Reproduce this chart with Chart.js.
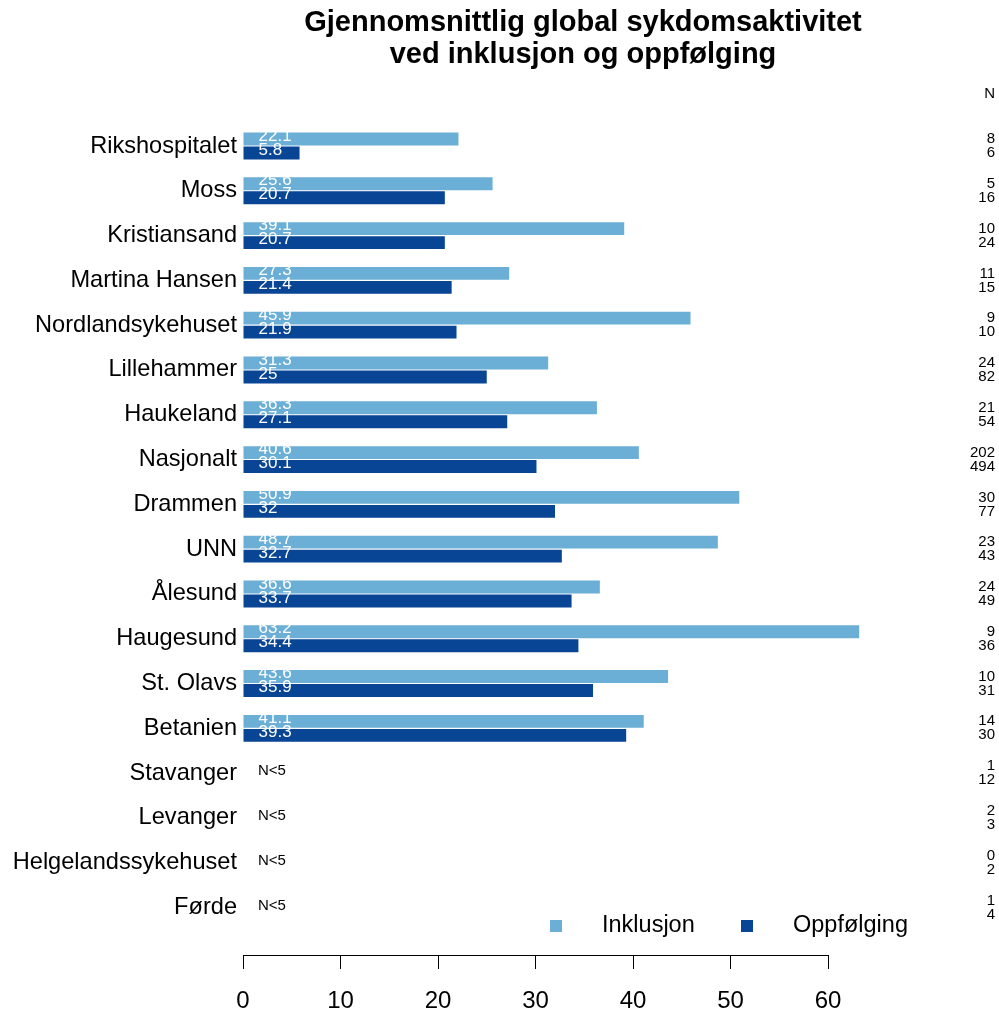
<!DOCTYPE html>
<html>
<head>
<meta charset="utf-8">
<script src="https://cdn.jsdelivr.net/npm/chart.js@4/dist/chart.umd.min.js"></script>
<style>
  html, body { margin: 0; padding: 0; background: #fff; }
  canvas { display: block; }
</style>
</head>
<body>
<canvas id="c" width="999" height="1012"></canvas>
<script>
const categories = ["Rikshospitalet","Moss","Kristiansand","Martina Hansen","Nordlandsykehuset","Lillehammer","Haukeland","Nasjonalt","Drammen","UNN","Ålesund","Haugesund","St. Olavs","Betanien","Stavanger","Levanger","Helgelandssykehuset","Førde"];
const inklusjon = [22.1,25.6,39.1,27.3,45.9,31.3,36.3,40.6,50.9,48.7,36.6,63.2,43.6,41.1,null,null,null,null];
const oppfolging = [5.8,20.7,20.7,21.4,21.9,25,27.1,30.1,32,32.7,33.7,34.4,35.9,39.3,null,null,null,null];
const nInklusjon = [8,5,10,11,9,24,21,202,30,23,24,9,10,14,1,2,0,1];
const nOppfolging = [6,16,24,15,10,82,54,494,77,43,49,36,31,30,12,3,2,4];
const xTicks = [0,10,20,30,40,50,60];
const titleLines = ["Gjennomsnittlig global sykdomsaktivitet","ved inklusjon og oppfølging"];
const seriesNames = ["Inklusjon","Oppfølging"];
const colors = ["#6BAED6","#084594"];
const FONT = "'Liberation Sans', Arial, Helvetica, sans-serif";

const textPlugin = {
  id: 'texts',
  afterDraw(chart) {
    const ctx = chart.ctx;
    const ys = chart.scales.y;
    ctx.save();
    // title
    ctx.fillStyle = '#000';
    ctx.textAlign = 'center';
    ctx.textBaseline = 'middle';
    ctx.font = 'bold 29px ' + FONT;
    ctx.fillText(titleLines[0], 583, 23);
    ctx.fillText(titleLines[1], 583, 55);
    // N column
    ctx.textAlign = 'right';
    ctx.font = '15px ' + FONT;
    ctx.fillText('N', 995, 94);
    categories.forEach((c, i) => {
      const y = ys.getPixelForValue(i);
      ctx.fillText(String(nInklusjon[i]), 995, y - 7);
      ctx.fillText(String(nOppfolging[i]), 995, y + 7);
    });
    // N<5
    ctx.textAlign = 'left';
    ctx.font = '15px ' + FONT;
    categories.forEach((c, i) => {
      if (inklusjon[i] === null && oppfolging[i] === null) {
        ctx.fillText('N<5', 258, ys.getPixelForValue(i) - 2);
      }
    });
    // value labels
    ctx.fillStyle = '#fff';
    ctx.font = '17px ' + FONT;
    chart.data.datasets.forEach((ds, di) => {
      const meta = chart.getDatasetMeta(di);
      meta.data.forEach((el, i) => {
        const v = ds.data[i].x;
        if (v === null) return;
        ctx.fillText(String(v), el.base + 15, el.y - 3);
      });
    });
    // legend
    ctx.font = '23.5px ' + FONT;
    ctx.fillStyle = colors[0];
    ctx.fillRect(550, 920, 12, 12);
    ctx.fillStyle = colors[1];
    ctx.fillRect(741, 920, 12, 12);
    ctx.fillStyle = '#000';
    ctx.fillText(seriesNames[0], 602, 926);
    ctx.fillText(seriesNames[1], 793, 926);
    ctx.restore();
  }
};

new Chart(document.getElementById('c'), {
  type: 'bar',
  data: {
    datasets: [
      { label: seriesNames[0], data: inklusjon.map((v, i) => ({x: v, y: i})), backgroundColor: colors[0], clip: false, borderWidth: 0 },
      { label: seriesNames[1], data: oppfolging.map((v, i) => ({x: v, y: i})), backgroundColor: colors[1], clip: false, borderWidth: 0 }
    ]
  },
  options: {
    indexAxis: 'y',
    responsive: false,
    animation: false,
    categoryPercentage: 0.625,
    barPercentage: 0.92,
    layout: { padding: { top: 123.6, right: 171, bottom: 0, left: 0 } },
    plugins: { legend: { display: false }, tooltip: { enabled: false }, title: { display: false } },
    scales: {
      x: {
        type: 'linear', min: 0, max: 60,
        afterBuildTicks: s => { s.ticks = xTicks.map(v => ({value: v})); },
        afterFit: s => { s.height = 57; s.paddingTop = 0; s.paddingBottom = 0; },
        border: { display: true, color: '#000', width: 1 },
        grid: { display: true, drawOnChartArea: false, drawTicks: true, tickLength: 14, color: '#000' },
        ticks: { color: '#000', font: { size: 24, family: FONT }, padding: 18, maxRotation: 0 }
      },
      y: {
        type: 'linear', reverse: true, min: -0.5, max: 18.06, offset: false,
        afterBuildTicks: s => { s.ticks = categories.map((c, i) => ({value: i})); },
        afterFit: s => { s.width = 243; s.paddingTop = 0; s.paddingBottom = 0; },
        border: { display: false },
        grid: { display: false, drawTicks: false, tickLength: 0, offset: false },
        ticks: { color: '#000', font: { size: 23.6, family: FONT }, padding: 6, autoSkip: false, callback: v => categories[v] }
      }
    }
  },
  plugins: [textPlugin]
});
</script>
</body>
</html>
